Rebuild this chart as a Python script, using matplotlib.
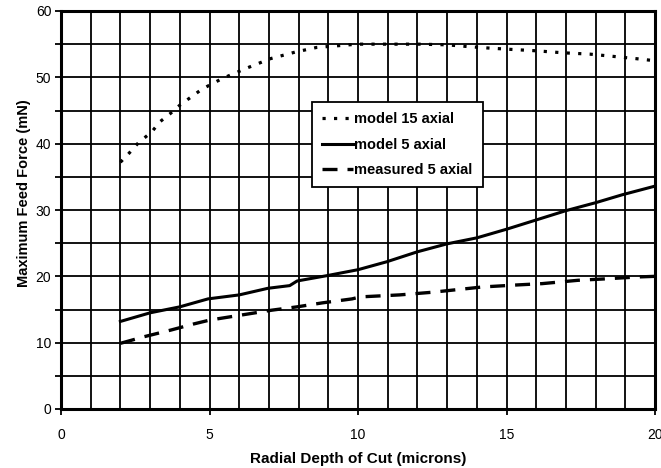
import matplotlib
matplotlib.use("Agg")
import matplotlib.pyplot as plt
from matplotlib.ticker import MultipleLocator

plt.rcParams['font.family'] = ['Liberation Sans', 'DejaVu Sans']

# Model prediction, 15 axial
x_m15 = [2.0, 2.3, 2.6, 3.06, 3.33, 3.67, 4.0, 4.34, 4.68, 4.95, 5.42, 6.26, 7.04,
         7.88, 8.6, 9.97, 11.0, 12.1, 13.0, 13.8, 14.45, 15.2, 16.0, 16.9, 17.8,
         18.5, 19.4, 20.0]
y_m15 = [37.2, 38.6, 40.1, 41.8, 43.3, 44.5, 45.8, 46.9, 48.0, 48.7, 49.8, 51.4, 52.8,
         53.8, 54.5, 55.0, 55.0, 55.0, 54.9, 54.6, 54.4, 54.2, 54.0, 53.7, 53.5,
         53.2, 52.8, 52.5]

# Model prediction, 5 axial
x_m5 = [2.0, 3.0, 4.0, 4.95, 6.0, 6.97, 7.7, 7.95, 8.95, 10.0, 10.97, 12.0, 13.0,
        14.0, 15.0, 16.0, 17.0, 18.0, 18.9, 20.0]
y_m5 = [13.2, 14.5, 15.4, 16.6, 17.2, 18.2, 18.6, 19.3, 20.1, 21.0, 22.2, 23.7, 24.9,
        25.8, 27.1, 28.5, 29.9, 31.1, 32.3, 33.6]

# Measured, 5 axial
x_meas = [2.0, 2.8, 3.7, 4.45, 5.0, 6.26, 7.1, 7.95, 8.8, 9.8, 10.07, 11.4, 12.5,
          14.2, 15.35, 16.2, 17.4, 18.25, 19.4, 20.0]
y_meas = [9.9, 10.9, 11.9, 12.8, 13.4, 14.3, 14.9, 15.4, 16.0, 16.6, 16.9, 17.2, 17.6,
          18.4, 18.7, 18.9, 19.4, 19.6, 19.9, 20.0]

labels = ["model 15 axial", "model 5 axial", "measured 5 axial"]

fig = plt.figure(figsize=(6.61, 4.68), dpi=100)
ax = fig.add_axes([61 / 661, 59 / 468, 594 / 661, 398 / 468])

ax.set_xlim(0, 20)
ax.set_ylim(0, 60)
ax.xaxis.set_major_locator(MultipleLocator(5))
ax.xaxis.set_minor_locator(MultipleLocator(1))
ax.yaxis.set_major_locator(MultipleLocator(10))
ax.yaxis.set_minor_locator(MultipleLocator(5))

ax.grid(True, which='both', axis='x', color='black', linewidth=1.3)
ax.grid(True, which='both', axis='y', color='black', linewidth=1.3)
ax.set_axisbelow(True)

for s in ax.spines.values():
    s.set_linewidth(2.2)

ax.tick_params(which='both', direction='out', length=4, width=1.3, colors='black',
               labelsize=10)
ax.tick_params(axis='x', which='minor', length=0)
ax.tick_params(axis='x', pad=10)
ax.tick_params(axis='y', pad=3)

ax.plot(x_m15, y_m15, color='black', linewidth=2.3, linestyle=(0, (1.0, 2.6)),
        label=labels[0])
ax.plot(x_m5, y_m5, color='black', linewidth=2.2, linestyle='-', label=labels[1])
ax.plot(x_meas, y_meas, color='black', linewidth=2.4, linestyle=(0, (4.5, 3.0)),
        label=labels[2])

ax.set_xlabel("Radial Depth of Cut (microns)", fontsize=11, fontweight='bold',
              labelpad=7)
ax.set_ylabel("Maximum Feed Force (mN)", fontsize=10.5, fontweight='bold')
ax.yaxis.set_label_coords(-0.05, 0.543)

leg = ax.legend(loc='upper left', bbox_to_anchor=(0.4226, 0.772), frameon=True,
                fancybox=False, edgecolor='black', framealpha=1,
                prop={'weight': 'bold', 'size': 10.5}, handlelength=2.1,
                handletextpad=0.1, borderpad=0.7, labelspacing=0.8,
                borderaxespad=0)
leg.get_frame().set_linewidth(1.3)

fig.savefig("out.png", dpi=100)
